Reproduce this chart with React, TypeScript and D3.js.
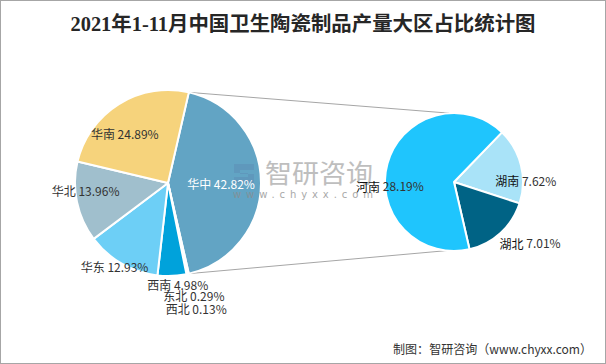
import React from 'react'
import * as d3 from 'd3'

// 大区占比 (%)
const regions = ['华中', '西北', '东北', '西南', '华东', '华北', '华南']
const regionShares = [42.82, 0.13, 0.29, 4.98, 12.93, 13.96, 24.89]
// 华中细分 (%)
const provinces = ['湖南', '湖北', '河南']
const provinceShares = [7.62, 7.01, 28.19]

const title = '2021年1-11月中国卫生陶瓷制品产量大区占比统计图'
const footer = '制图：智研咨询（www.chyxx.com）'

const W = 606
const H = 364
const deg = Math.PI / 180
const cjk = "'Noto Sans CJK SC', sans-serif"

const leftColors: Record<string, string> = {
    华中: '#62a4c4', 西北: '#7f7f7f', 东北: '#2e75b6', 西南: '#00a2db',
    华东: '#6dcff6', 华北: '#a0bfcd', 华南: '#f6d37c'
}
const rightColors: Record<string, string> = {
    湖南: '#a9e3f8', 湖北: '#006385', 河南: '#1fc5fd'
}
// label placement: [radius factor, angle nudge in degrees]
const leftLabelPos: Record<string, [number, number]> = {
    华中: [0.57, 0], 西北: [1.38, 0], 东北: [1.245, -1], 西南: [1.1, -3],
    华东: [1.07, 2.7], 华北: [0.89, 6.6], 华南: [0.71, -9]
}
const rightLabelPos: Record<string, [number, number]> = {
    湖南: [1.04, 12.4], 湖北: [1.41, -9], 河南: [0.93, -18.7]
}

function polar(cx: number, cy: number, r: number, a: number) {
    return [cx + r * Math.sin(a), cy - r * Math.cos(a)]
}

export default function App() {
    const lc = { x: 168, y: 183, r: 93 }
    const rc = { x: 454, y: 182, r: 69 }

    const mainShare = regionShares[0] / d3.sum(regionShares)
    const a0 = Math.PI / 2 - mainShare * Math.PI
    const leftPie = d3.pie<number>().sort(null).startAngle(a0).endAngle(a0 + 2 * Math.PI)
    const leftArcs = leftPie(regionShares)
    const leftArc = d3.arc<d3.PieArcDatum<number>>().innerRadius(0).outerRadius(lc.r)

    const b0 = 44 * deg
    const rightPie = d3.pie<number>().sort(null).startAngle(b0).endAngle(b0 + 2 * Math.PI)
    const rightArcs = rightPie(provinceShares)
    const rightArc = d3.arc<d3.PieArcDatum<number>>().innerRadius(0).outerRadius(rc.r)

    const main = leftArcs[0]
    const [tx1, ty1] = polar(lc.x, lc.y, lc.r, main.startAngle)
    const [bx1, by1] = polar(lc.x, lc.y, lc.r, main.endAngle)
    const [tx2, ty2] = polar(rc.x, rc.y, rc.r, -4 * deg)
    const [bx2, by2] = polar(rc.x, rc.y, rc.r, 186 * deg)

    const label = (d: d3.PieArcDatum<number>, c: typeof lc, pos: [number, number]) => {
        const mid = (d.startAngle + d.endAngle) / 2 + pos[1] * deg
        return polar(c.x, c.y, c.r * pos[0], mid)
    }

    return (
        <svg width={W} height={H} style={{ position: 'absolute', left: 0, top: 0 }}>
            <rect x={0.5} y={0.5} width={W - 1} height={H - 1} fill="#fff" stroke="#a6a6a6" />
            <text x={303} y={31} textAnchor="middle" fontFamily="'Liberation Serif', 'Noto Sans CJK SC', serif"
                fontSize={20} fontWeight={600} fill="#262626" textLength={465} lengthAdjust="spacingAndGlyphs">
                {title}
            </text>

            <line x1={tx1} y1={ty1} x2={tx2} y2={ty2} stroke="#a6a6a6" strokeWidth={1} />
            <line x1={bx1} y1={by1} x2={bx2} y2={by2} stroke="#a6a6a6" strokeWidth={1} />

            <g transform={`translate(${lc.x},${lc.y})`}>
                {leftArcs.map((d, i) => (
                    <path key={regions[i]} d={leftArc(d) || ''} fill={leftColors[regions[i]]}
                        stroke="#fff" strokeWidth={2} strokeLinejoin="round" />
                ))}
            </g>
            <g transform={`translate(${rc.x},${rc.y})`}>
                {rightArcs.map((d, i) => (
                    <path key={provinces[i]} d={rightArc(d) || ''} fill={rightColors[provinces[i]]}
                        stroke="#fff" strokeWidth={2} strokeLinejoin="round" />
                ))}
            </g>

            {/* watermark */}
            <g opacity={0.75}>
                <path d="M234,164 h20 v6 h-14 v4 h14 v9 h-20 v-6 h14 v-4 h-14 z" fill="#5a86b0" opacity={0.5} />
                <text x={265} y={183} fontFamily={cjk} fontSize={26} fill="#a9a9a9" textLength={108}
                    lengthAdjust="spacingAndGlyphs">智研咨询</text>
                <text x={233} y={198} fontFamily="'DejaVu Sans', sans-serif" fontSize={10} fill="#8c8c8c"
                    textLength={140} lengthAdjust="spacing">www.chyxx.com</text>
            </g>

            {leftArcs.map((d, i) => {
                const [x, y] = label(d, lc, leftLabelPos[regions[i]])
                return (
                    <text key={'l' + regions[i]} x={x} y={y} textAnchor="middle" dominantBaseline="central"
                        fontFamily={cjk} fontSize={12} fill={i === 0 ? '#fff' : '#333'}>
                        {regions[i]} {regionShares[i].toFixed(2)}%
                    </text>
                )
            })}
            {rightArcs.map((d, i) => {
                const [x, y] = label(d, rc, rightLabelPos[provinces[i]])
                return (
                    <text key={'r' + provinces[i]} x={x} y={y} textAnchor="middle" dominantBaseline="central"
                        fontFamily={cjk} fontSize={12} fill="#333">
                        <tspan fill="#111">{provinces[i]}</tspan> {provinceShares[i].toFixed(2)}%
                    </text>
                )
            })}

            <text x={592} y={354} textAnchor="end" fontFamily={cjk} fontSize={12.5} fill="#333"
                textLength={199} lengthAdjust="spacingAndGlyphs">{footer}</text>
        </svg>
    )
}
